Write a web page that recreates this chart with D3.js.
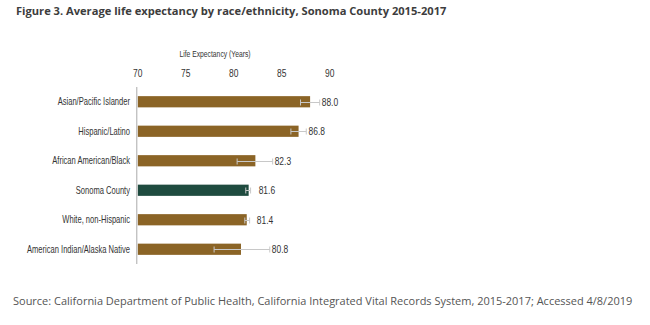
<!DOCTYPE html>
<html><head><meta charset="utf-8">
<script src="https://cdn.jsdelivr.net/npm/d3@7"></script>
<style>
html,body{margin:0;padding:0;background:#fff;}
svg{display:block;}
</style>
</head><body>
<svg id="c" width="650" height="325"></svg>
<script>
const categories = ["Asian/Pacific Islander","Hispanic/Latino","African American/Black","Sonoma County","White, non-Hispanic","American Indian/Alaska Native"];
const values = [88.0, 86.8, 82.3, 81.6, 81.4, 80.8];
const lower = [87.0, 86.0, 80.4, 81.3, 81.2, 78.0];
const upper = [89.0, 87.6, 84.1, 81.8, 81.7, 83.8];
const labels = ["88.0","86.8","82.3","81.6","81.4","80.8"];
const highlight = ["Sonoma County"];
const ticks = [70, 75, 80, 85, 90];

const svg = d3.select("#c");
const narrow = "'Liberation Sans',Arial,sans-serif";
const x = d3.scaleLinear().domain([70, 90]).range([137.3, 329.3]);
const y = d3.scaleBand().domain(categories).range([87, 264]).paddingInner(0.62).paddingOuter(0.31);

function fitWidth(sel, target) {
  const w = sel.node().getComputedTextLength();
  const fs = parseFloat(sel.attr("font-size"));
  sel.attr("font-size", fs * target / w);
}

const title = svg.append("text").attr("x", 16).attr("y", 15)
  .attr("font-family", "'Open Sans',sans-serif").attr("font-weight", "bold")
  .attr("font-size", 12).attr("fill", "#3d3d3d")
  .text("Figure 3. Average life expectancy by race/ethnicity, Sonoma County 2015-2017");
fitWidth(title, 431);

const data = categories.map((c, i) => ({c, v: values[i], lo: lower[i], hi: upper[i], l: labels[i]}));

svg.append("g").selectAll("rect").data(data).join("rect")
  .attr("x", x(70) + 0.5).attr("y", d => y(d.c))
  .attr("width", d => x(d.v) - x(70) - 0.5).attr("height", y.bandwidth())
  .attr("fill", d => highlight.includes(d.c) ? "#1f4b3f" : "#8b6426");

const eb = svg.append("g").attr("stroke", "#c8c8c8").attr("stroke-width", 1);
data.forEach(d => {
  const cy = Math.round(y(d.c) + y.bandwidth() / 2) + 0.5;
  eb.append("line").attr("x1", x(d.lo)).attr("x2", x(d.hi)).attr("y1", cy).attr("y2", cy);
  eb.append("line").attr("x1", x(d.lo)).attr("x2", x(d.lo)).attr("y1", cy - 3).attr("y2", cy + 3);
  eb.append("line").attr("x1", x(d.hi)).attr("x2", x(d.hi)).attr("y1", cy - 3).attr("y2", cy + 3);
});

svg.append("line").attr("x1", 136.8).attr("x2", 136.8).attr("y1", 87).attr("y2", 264)
  .attr("stroke", "#aaa").attr("stroke-width", 1);

const catText = svg.append("g").selectAll("text").data(data).join("text")
  .attr("x", 130).attr("y", d => y(d.c) + y.bandwidth() / 2).attr("dy", "0.35em")
  .attr("text-anchor", "end").attr("font-family", narrow).attr("font-size", 10.3).attr("fill", "#333")
  .text(d => d.c);

let longest = 0;
catText.each(function(){ longest = Math.max(longest, this.getComputedTextLength()); });
const k = 103 / longest;
function condense(sel) {
  sel.each(function(){
    const w = this.getComputedTextLength();
    d3.select(this).attr("textLength", w * k).attr("lengthAdjust", "spacingAndGlyphs");
  });
}
condense(catText);

const axTitle = svg.append("text").attr("x", 215).attr("y", 57).attr("text-anchor", "middle")
  .attr("font-family", narrow).attr("font-size", 9.2).attr("fill", "#333")
  .text("Life Expectancy (Years)");
condense(axTitle);

const ax = d3.axisTop(x).tickValues(ticks).tickSize(0).tickPadding(0).tickFormat(d3.format("d"));
const gx = svg.append("g").attr("transform", "translate(0,77)").call(ax);
gx.select(".domain").remove();
gx.selectAll("text").attr("font-family", narrow).attr("font-size", 11.5).attr("fill", "#333");
condense(gx.selectAll("text"));

const valText = svg.append("g").selectAll("text").data(data).join("text")
  .attr("x", d => Math.max(x(d.v) + 10, x(d.hi) + 2)).attr("y", d => y(d.c) + y.bandwidth() / 2).attr("dy", "0.35em")
  .attr("font-family", narrow).attr("font-size", 11.5).attr("fill", "#333")
  .text(d => d.l);
condense(valText);

const src = svg.append("text").attr("x", 13).attr("y", 305)
  .attr("font-family", "'Open Sans',sans-serif").attr("font-size", 12).attr("fill", "#555")
  .text("Source: California Department of Public Health, California Integrated Vital Records System, 2015-2017; Accessed 4/8/2019");
fitWidth(src, 620);
</script>
</body></html>
